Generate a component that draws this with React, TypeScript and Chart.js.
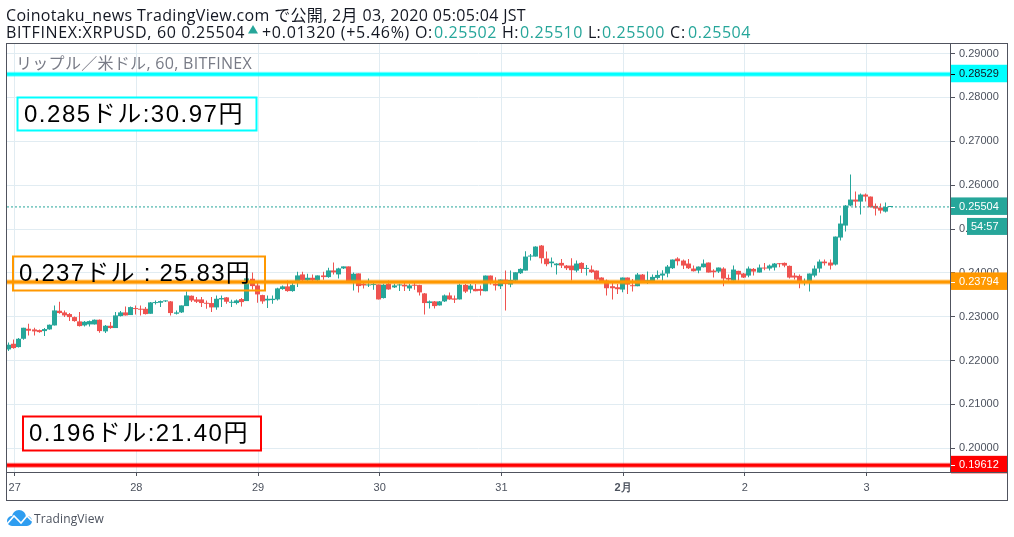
import React, { useEffect, useRef } from "react";
import { Chart, registerables } from "chart.js";

Chart.register(...registerables);

const opens = [
  0.22255,0.22384,0.22308,0.22498,0.22726,0.22711,0.22696,0.22673,0.22711,0.22802,
  0.23137,0.23099,0.23061,0.22992,0.22894,0.22802,0.22825,0.22825,0.22932,0.22666,
  0.22795,0.22742,0.23015,0.23099,0.23038,0.23198,0.23182,0.23182,0.23068,0.23312,
  0.23319,0.23350,0.23350,0.23068,0.23099,0.23243,0.23479,0.23395,0.23395,0.23312,
  0.23312,0.23213,0.23395,0.23441,0.23319,0.23312,0.23403,0.23357,0.23866,0.23714,
  0.23494,0.23372,0.23380,0.23395,0.23631,0.23692,0.23585,0.23813,0.23965,0.23828,
  0.23889,0.23828,0.23942,0.23904,0.24056,0.23965,0.24102,0.24148,0.23813,0.23988,
  0.23752,0.23714,0.23722,0.23737,0.23426,0.23752,0.23669,0.23714,0.23730,0.23646,
  0.23730,0.23722,0.23532,0.23312,0.23350,0.23258,0.23350,0.23486,0.23418,0.23395,
  0.23726,0.23620,0.23635,0.23635,0.23582,0.23939,0.23749,0.23696,0.23848,0.23734,
  0.23825,0.23992,0.24053,0.24372,0.24372,0.24623,0.24327,0.24220,0.24175,0.24228,
  0.24167,0.24167,0.24053,0.24228,0.24091,0.24076,0.24053,0.23894,0.23825,0.23696,
  0.23673,0.23620,0.23894,0.23719,0.23696,0.23962,0.23810,0.23810,0.23886,0.23939,
  0.23985,0.24106,0.24327,0.24281,0.24213,0.24099,0.24053,0.24129,0.24236,0.24053,
  0.24030,0.24099,0.23886,0.23825,0.24046,0.23985,0.23939,0.24091,0.24008,0.24114,
  0.24099,0.24122,0.24213,0.24228,0.24160,0.23939,0.23932,0.23787,0.23787,0.23939,
  0.24099,0.24258,0.24236,0.24190,0.24806,0.25079,0.25535,0.25672,0.25626,0.25786,
  0.25740,0.25528,0.25490,0.25398,0.25502,
];
const highs = [
  0.22415,0.22483,0.22514,0.22749,0.22840,0.22749,0.22711,0.22742,0.22825,0.23258,
  0.23342,0.23144,0.23084,0.23008,0.23106,0.22901,0.22916,0.22939,0.22939,0.22810,
  0.22878,0.23106,0.23129,0.23236,0.23236,0.23258,0.23258,0.23220,0.23334,0.23372,
  0.23372,0.23372,0.23357,0.23144,0.23258,0.23578,0.23486,0.23448,0.23448,0.23372,
  0.23448,0.23486,0.23486,0.23448,0.23388,0.23395,0.23426,0.24193,0.24011,0.23790,
  0.23502,0.23486,0.23486,0.23661,0.23714,0.23828,0.23790,0.24026,0.24026,0.23980,
  0.23965,0.23942,0.24026,0.24117,0.24239,0.24117,0.24148,0.24148,0.24011,0.23988,
  0.23813,0.23874,0.23790,0.23737,0.23752,0.23828,0.23752,0.23752,0.23790,0.23752,
  0.23768,0.23730,0.23540,0.23372,0.23357,0.23357,0.23509,0.23555,0.23486,0.23752,
  0.23749,0.23749,0.23749,0.23711,0.23939,0.23939,0.23901,0.23848,0.24053,0.24053,
  0.24015,0.24106,0.24494,0.24433,0.24608,0.24638,0.24486,0.24350,0.24220,0.24319,
  0.24182,0.24334,0.24281,0.24243,0.24182,0.24167,0.24053,0.23901,0.23848,0.23787,
  0.23749,0.23894,0.23894,0.23863,0.24000,0.23977,0.24030,0.23962,0.24053,0.24061,
  0.24182,0.24304,0.24357,0.24304,0.24319,0.24167,0.24144,0.24304,0.24236,0.24084,
  0.24122,0.24129,0.23962,0.24167,0.24046,0.24000,0.24144,0.24114,0.24190,0.24228,
  0.24190,0.24228,0.24228,0.24236,0.24167,0.24000,0.23962,0.23871,0.23985,0.24167,
  0.24304,0.24304,0.24304,0.24828,0.25307,0.25550,0.26242,0.25854,0.25809,0.25809,
  0.25740,0.25581,0.25581,0.25604,0.25510,
];
const lows = [
  0.22217,0.22270,0.22301,0.22476,0.22574,0.22574,0.22635,0.22559,0.22704,0.22802,
  0.23068,0.22992,0.22901,0.22886,0.22780,0.22780,0.22780,0.22825,0.22635,0.22628,
  0.22726,0.22742,0.23008,0.23030,0.23038,0.23053,0.23030,0.23053,0.23068,0.23281,
  0.23220,0.23334,0.23030,0.23053,0.23084,0.23243,0.23334,0.23312,0.23220,0.23182,
  0.23106,0.23160,0.23220,0.23296,0.23220,0.23281,0.23236,0.23357,0.23623,0.23319,
  0.23296,0.23198,0.23296,0.23372,0.23616,0.23570,0.23570,0.23676,0.23790,0.23813,
  0.23813,0.23813,0.23844,0.23889,0.23965,0.23874,0.24087,0.23790,0.23600,0.23555,
  0.23646,0.23676,0.23616,0.23395,0.23418,0.23616,0.23654,0.23585,0.23585,0.23585,
  0.23616,0.23486,0.23053,0.23190,0.23190,0.23258,0.23334,0.23388,0.23312,0.23395,
  0.23544,0.23536,0.23582,0.23483,0.23582,0.23734,0.23597,0.23635,0.23141,0.23673,
  0.23787,0.23977,0.24053,0.24281,0.24372,0.24213,0.24152,0.24129,0.23962,0.24114,
  0.24068,0.23825,0.24015,0.24000,0.23939,0.24000,0.23825,0.23787,0.23483,0.23392,
  0.23521,0.23559,0.23521,0.23574,0.23696,0.23772,0.23749,0.23787,0.23848,0.23825,
  0.23901,0.24091,0.24167,0.24091,0.24091,0.24030,0.23992,0.24122,0.24008,0.23894,
  0.24000,0.23696,0.23810,0.23825,0.23825,0.23886,0.23901,0.23939,0.24008,0.24061,
  0.24053,0.24053,0.24129,0.24129,0.23871,0.23848,0.23650,0.23711,0.23574,0.23901,
  0.24008,0.24167,0.24076,0.24167,0.24737,0.24942,0.25520,0.25490,0.25330,0.25626,
  0.25490,0.25307,0.25353,0.25376,0.25500,
];
const closes = [
  0.22362,0.22286,0.22498,0.22749,0.22681,0.22666,0.22650,0.22719,0.22818,0.23144,
  0.23084,0.23030,0.22992,0.22901,0.22787,0.22886,0.22901,0.22932,0.22673,0.22795,
  0.22742,0.23030,0.23099,0.23030,0.23220,0.23175,0.23160,0.23061,0.23327,0.23334,
  0.23357,0.23372,0.23084,0.23099,0.23258,0.23486,0.23372,0.23342,0.23312,0.23296,
  0.23213,0.23410,0.23426,0.23342,0.23342,0.23372,0.23334,0.23874,0.23699,0.23509,
  0.23350,0.23410,0.23410,0.23646,0.23692,0.23585,0.23722,0.23942,0.23828,0.23889,
  0.23828,0.23942,0.23904,0.24056,0.24011,0.24102,0.24148,0.23813,0.23980,0.23699,
  0.23714,0.23730,0.23737,0.23395,0.23730,0.23623,0.23714,0.23730,0.23692,0.23714,
  0.23707,0.23555,0.23312,0.23350,0.23243,0.23350,0.23486,0.23395,0.23388,0.23730,
  0.23574,0.23711,0.23582,0.23590,0.23939,0.23810,0.23711,0.23848,0.23749,0.23840,
  0.24015,0.24091,0.24372,0.24395,0.24600,0.24334,0.24198,0.24258,0.24213,0.24167,
  0.24106,0.24061,0.24213,0.24091,0.24114,0.24015,0.23848,0.23802,0.23650,0.23650,
  0.23628,0.23894,0.23734,0.23696,0.23962,0.23810,0.23825,0.23909,0.23954,0.23985,
  0.24144,0.24304,0.24266,0.24167,0.24106,0.24038,0.24144,0.24213,0.24008,0.24015,
  0.24122,0.23871,0.23848,0.24076,0.23962,0.23894,0.24099,0.24030,0.24122,0.24099,
  0.24167,0.24213,0.24198,0.24167,0.23894,0.23894,0.23810,0.23810,0.23985,0.24099,
  0.24258,0.24220,0.24167,0.24828,0.25125,0.25535,0.25672,0.25626,0.25786,0.25740,
  0.25497,0.25467,0.25421,0.25502,0.25504,
];

const priceTicks = [0.29, 0.28, 0.27, 0.26, 0.25, 0.24, 0.23, 0.22, 0.21, 0.2];
const dayTickIndex = [1.18, 25.18, 49.18, 73.18, 97.18, 121.18, 145.18, 169.18];
const dayTickLabels = ["27", "28", "29", "30", "31", "2月", "2", "3"];

const resistanceLevel = 0.28529;
const lastPrice = 0.25504;
const midLevel = 0.23794;
const supportLevel = 0.19612;

const headerLine1 = "Coinotaku_news TradingView.com で公開, 2月 03, 2020 05:05:04 JST";
const watermark = "リップル／米ドル, 60, BITFINEX";
const noteCyan = "0.285ドル:30.97円";
const noteOrange = "0.237ドル : 25.83円";
const noteRed = "0.196ドル:21.40円";
const countdown = "54:57";

const UP = "#26a69a";
const DOWN = "#ef5350";
const FRAME = "#50535e";
const GRID = "#e1ecf2";
const TEXT = "#131722";
const AXIS_TEXT = "#4c525e";
const SANS = '"Open Sans","Noto Sans CJK JP",sans-serif';
const AXISFONT = '"Liberation Sans",sans-serif';
const NOTEFONT = '"Liberation Sans","Noto Sans CJK JP",sans-serif';

const X_MIN = -0.335;
const X_MAX = 185.66;

function fitText(ctx: CanvasRenderingContext2D, text: string, x: number, y: number, width: number) {
  (ctx as any).letterSpacing = "0px";
  const w = ctx.measureText(text).width;
  (ctx as any).letterSpacing = (width - w) / text.length + "px";
  ctx.fillText(text, x, y);
  (ctx as any).letterSpacing = "0px";
}

const snapBars = {
  id: "snapBars",
  afterDatasetsUpdate(chart: any) {
    chart.data.datasets.forEach((ds: any, i: number) => {
      if (ds.type === "line") return;
      chart.getDatasetMeta(i).data.forEach((el: any) => {
        el.x = Math.floor(el.x) + 0.5;
      });
    });
  },
};

const decor = {
  id: "decor",
  beforeDatasetsDraw(chart: any) {
    const ctx: CanvasRenderingContext2D = chart.ctx;
    ctx.save();
    ctx.fillStyle = "#787b86";
    ctx.font = `16px ${SANS}`;
    ctx.textBaseline = "alphabetic";
    fitText(ctx, watermark, 16, 69, 236);
    ctx.restore();
  },
  afterDatasetsDraw(chart: any) {
    const ctx: CanvasRenderingContext2D = chart.ctx;
    const { left, right, top, bottom } = chart.chartArea;
    const y = chart.scales.y;
    const W = chart.width;
    ctx.save();

    const note = (txt: string, bx: number, by: number, bw: number, bh: number, col: string, fill: boolean, tx: number, tw: number) => {
      if (fill) {
        ctx.fillStyle = "#ffffff";
        ctx.fillRect(bx, by, bw, bh);
      }
      ctx.strokeStyle = col;
      ctx.lineWidth = 2;
      ctx.strokeRect(bx, by, bw, bh);
      ctx.fillStyle = "#000000";
      ctx.font = `24px ${NOTEFONT}`;
      ctx.textBaseline = "middle";
      ctx.textAlign = "left";
      fitText(ctx, txt, tx, by + bh / 2 + 1, tw);
    };
    note(noteCyan, 17.5, 97.5, 239, 33, "#00ffff", true, 24, 220);
    note(noteOrange, 13, 256.5, 252, 34, "#ff9800", false, 19, 232);
    note(noteRed, 23, 416.5, 238, 34, "#ff0000", true, 29, 220);

    // price-axis labels
    const box = (v: number, txt: string, col: string, fg: string, tickCol: string) => {
      const py = y.getPixelForValue(v);
      ctx.fillStyle = col;
      ctx.fillRect(right + 1, py - 9.5, W - right - 8, 17.5);
      ctx.fillStyle = tickCol;
      ctx.fillRect(right + 1, Math.round(py), 4, 1);
      ctx.fillStyle = fg;
      ctx.font = `11px ${AXISFONT}`;
      ctx.textBaseline = "middle";
      ctx.textAlign = "left";
      ctx.fillText(txt, right + 9, py);
    };
    box(resistanceLevel, resistanceLevel.toFixed(5), "#00ffff", TEXT, "#000000");
    box(lastPrice, lastPrice.toFixed(5), UP, "#ffffff", "#ffffff");
    box(midLevel, midLevel.toFixed(5), "#ff9800", "#ffffff", "#ffffff");
    box(supportLevel, supportLevel.toFixed(5), "#ff0000", "#ffffff", "#ffffff");

    const lp = y.getPixelForValue(lastPrice);
    ctx.fillStyle = UP;
    ctx.fillRect(right + 17, lp + 11, W - right - 24, 17);
    ctx.fillStyle = "#ffffff";
    ctx.fillText(countdown, right + 21, lp + 20);

    // frame
    ctx.strokeStyle = FRAME;
    ctx.lineWidth = 1;
    ctx.strokeRect(left - 0.5, top - 0.5, W - 7 - left + 1, 457);
    ctx.beginPath();
    ctx.moveTo(right + 0.5, top);
    ctx.lineTo(right + 0.5, bottom + 0.5);
    ctx.moveTo(left, bottom + 0.5);
    ctx.lineTo(W - 7, bottom + 0.5);
    ctx.stroke();

    // header
    ctx.fillStyle = TEXT;
    ctx.font = `16px ${SANS}`;
    ctx.textBaseline = "alphabetic";
    ctx.textAlign = "left";
    fitText(ctx, headerLine1, 6, 21, 520);
    const runs: [string, number, number, string][] = [
      ["BITFINEX:XRPUSD, 60 0.25504", 6, 239, TEXT],
      ["+0.01320 (+5.46%)", 262, 148, TEXT],
      ["O:", 415, 18, TEXT],
      ["0.25502", 434, 63, UP],
      ["H:", 502, 17, TEXT],
      ["0.25510", 520, 63, UP],
      ["L:", 588, 13, TEXT],
      ["0.25500", 602, 63, UP],
      ["C:", 670, 16, TEXT],
      ["0.25504", 688, 63, UP],
    ];
    runs.forEach(([t, x, w, c]) => {
      ctx.fillStyle = c;
      fitText(ctx, t, x, 37.5, w);
    });
    ctx.fillStyle = UP;
    ctx.beginPath();
    ctx.moveTo(248, 33.5);
    ctx.lineTo(258, 33.5);
    ctx.lineTo(253, 25);
    ctx.closePath();
    ctx.fill();

    // logo
    ctx.fillStyle = "#2e9df0";
    ctx.beginPath();
    ctx.arc(12, 521, 5, 0, Math.PI * 2);
    ctx.arc(19, 517, 7, 0, Math.PI * 2);
    ctx.arc(27, 521, 5, 0, Math.PI * 2);
    ctx.fill();
    ctx.fillRect(12, 520, 15, 6);
    ctx.strokeStyle = "#ffffff";
    ctx.lineWidth = 1.6;
    ctx.beginPath();
    ctx.moveTo(7, 524);
    ctx.lineTo(14, 516);
    ctx.lineTo(21, 523);
    ctx.lineTo(27, 516);
    ctx.lineTo(32, 521);
    ctx.stroke();
    ctx.fillStyle = AXIS_TEXT;
    ctx.font = `12px ${SANS}`;
    ctx.textBaseline = "alphabetic";
    fitText(ctx, "TradingView", 34, 523, 70);
    ctx.restore();
  },
};

export default function App() {
  const ref = useRef<HTMLCanvasElement>(null);
  useEffect(() => {
    const colours = closes.map((c, i) => (c >= opens[i] ? UP : DOWN));
    const level = (v: number) => [
      { x: X_MIN, y: v },
      { x: X_MAX, y: v },
    ];
    const hline = (v: number, col: string, width: number, order: number, extra: any = {}) => ({
      type: "line" as const,
      data: level(v),
      borderColor: col,
      borderWidth: width,
      pointRadius: 0,
      order,
      ...extra,
    });
    const chart = new Chart(ref.current!, {
      type: "bar",
      data: {
        datasets: [
          {
            data: lows.map((l, i) => ({ x: i, y: [l, highs[i]] })),
            backgroundColor: colours,
            barThickness: 1,
            grouped: false,
            inflateAmount: 0,
            order: 5,
          } as any,
          {
            data: opens.map((o, i) => ({ x: i, y: [o, closes[i]] })),
            backgroundColor: colours,
            barThickness: 5,
            minBarLength: 1,
            grouped: false,
            inflateAmount: 0,
            order: 4,
          } as any,
          hline(lastPrice, UP, 1, 3, { borderDash: [2, 2] }),
          hline(resistanceLevel, "rgba(0,255,255,0.45)", 5, 2),
          hline(resistanceLevel, "#00ffff", 3, 1),
          hline(midLevel, "rgba(255,152,0,0.45)", 5, 2),
          hline(midLevel, "#ff9800", 3, 1),
          hline(supportLevel, "rgba(255,0,0,0.45)", 5, 2),
          hline(supportLevel, "#ff0000", 3, 1),
        ],
      },
      options: {
        responsive: false,
        animation: false,
        layout: { autoPadding: false, padding: { left: 7, top: 44, right: 7, bottom: 37 } },
        plugins: { legend: { display: false }, tooltip: { enabled: false }, title: { display: false } },
        events: [],
        scales: {
          x: {
            type: "linear",
            min: X_MIN,
            max: X_MAX,
            offset: false,
            grid: { color: GRID, tickColor: FRAME, tickLength: 4, offset: false },
            border: { display: false },
            afterBuildTicks: (s: any) => {
              s.ticks = dayTickIndex.map((value) => ({ value }));
            },
            afterFit: (s: any) => {
              s.height = 28;
            },
            ticks: {
              autoSkip: false,
              maxRotation: 0,
              padding: 5,
              color: AXIS_TEXT,
              font: (c: any) => ({
                family: AXISFONT,
                size: 11,
                weight: dayTickLabels[c.index] === "2月" ? "bold" : "normal",
              }),
              callback: (_v: any, i: number) => dayTickLabels[i],
            },
          },
          y: {
            position: "right",
            min: 0.1946,
            max: 0.29219,
            grid: { color: GRID, tickColor: FRAME, tickLength: 5 },
            border: { display: false },
            afterBuildTicks: (s: any) => {
              s.ticks = priceTicks.map((value) => ({ value }));
            },
            afterFit: (s: any) => {
              s.width = 57;
            },
            ticks: {
              padding: 4,
              color: AXIS_TEXT,
              font: { family: AXISFONT, size: 11 },
              callback: (v: any) => Number(v).toFixed(5),
            },
          },
        },
      } as any,
      plugins: [snapBars, decor],
    });
    return () => chart.destroy();
  }, []);
  return (
    <div style={{ position: "fixed", left: 0, top: 0, width: 1014, height: 537, background: "#fff" }}>
      <canvas ref={ref} width={1014} height={537} style={{ display: "block" }} />
    </div>
  );
}
